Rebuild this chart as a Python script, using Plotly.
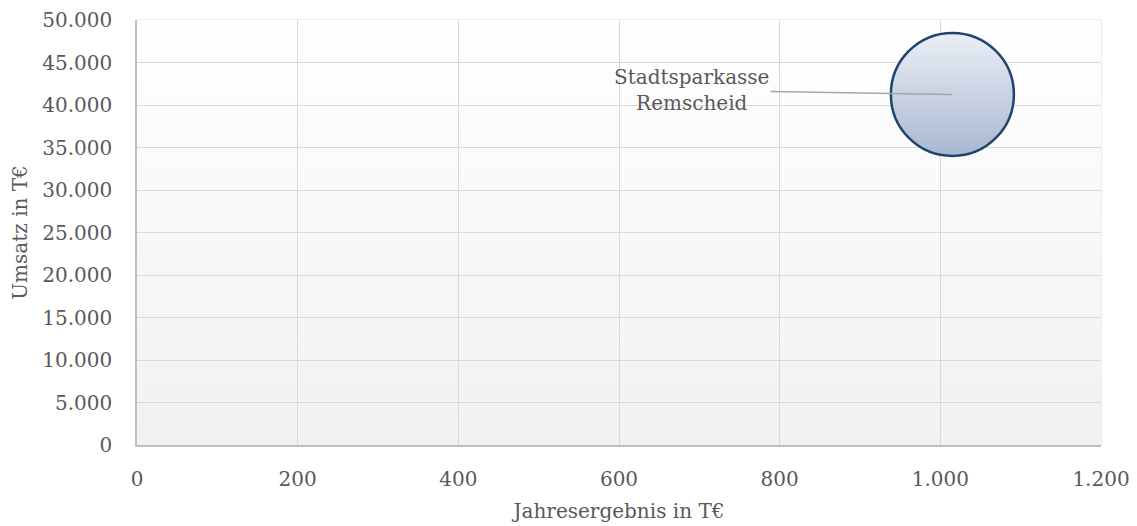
import base64
import plotly.graph_objects as go

# ---- data ----
names = ["Stadtsparkasse<br>Remscheid"]
jahresergebnis = [1015]      # T€ (x)
umsatz = [41250]             # T€ (y)
bubble_px = [123]            # bubble diameter in px

x_ticks = [0, 200, 400, 600, 800, 1000, 1200]
x_ticklabels = ["0", "200", "400", "600", "800", "1.000", "1.200"]
y_ticks = [0, 5000, 10000, 15000, 20000, 25000, 30000, 35000, 40000, 45000, 50000]
y_ticklabels = ["0", "5.000", "10.000", "15.000", "20.000", "25.000", "30.000",
                "35.000", "40.000", "45.000", "50.000"]

FONT = "DejaVu Serif"
TXT = "#595959"

# background gradient (white -> light grey) for the plot area
svg = ('<svg xmlns="http://www.w3.org/2000/svg" width="100" height="100" preserveAspectRatio="none">'
       '<defs><linearGradient id="g" x1="0" y1="0" x2="0" y2="1">'
       '<stop offset="0" stop-color="#ffffff"/><stop offset="1" stop-color="#f1f1f1"/>'
       '</linearGradient></defs><rect width="100" height="100" fill="url(#g)"/></svg>')
bg_uri = "data:image/svg+xml;base64," + base64.b64encode(svg.encode()).decode()

fig = go.Figure()
fig.add_trace(go.Scatter(
    x=jahresergebnis, y=umsatz, mode="markers",
    marker=dict(size=bubble_px, color="#eaeef5", opacity=1,
                gradient=dict(type="vertical", color="#a9b8d2"),
                line=dict(color="#1f4470", width=2.5)),
    hoverinfo="skip", showlegend=False, cliponaxis=False,
))

fig.add_annotation(
    x=jahresergebnis[0], y=umsatz[0], xref="x", yref="y",
    text=names[0], showarrow=True, arrowhead=0, arrowwidth=1.5,
    arrowcolor="#a6a6a6", ax=-261, ay=-4,
    font=dict(family=FONT, size=20, color=TXT), align="center",
)

fig.add_layout_image(dict(
    source=bg_uri, xref="x", yref="y", x=0, y=50000, sizex=1200, sizey=50000,
    sizing="stretch", layer="below", xanchor="left", yanchor="top",
))

# light frame around the plot area (top / right edges)
fig.add_shape(type="rect", xref="paper", yref="paper", x0=0, y0=0, x1=1, y1=1,
              line=dict(color="#d9d9d9", width=1), fillcolor="rgba(0,0,0,0)",
              layer="below")

axis_common = dict(
    showgrid=True, gridcolor="#d9d9d9", gridwidth=1,
    showline=True, linecolor="#bfbfbf", linewidth=1.5,
    zeroline=False, ticks="", tickfont=dict(family=FONT, size=20, color=TXT),
    ticklabeloverflow="allow",
)

fig.update_xaxes(range=[0, 1200], tickmode="array", tickvals=x_ticks,
                 ticktext=x_ticklabels, ticklabelstandoff=15,
                 title=dict(text="Jahresergebnis in T€", standoff=14,
                            font=dict(family=FONT, size=20, color=TXT)),
                 **axis_common)
fig.update_yaxes(range=[0, 50000], tickmode="array", tickvals=y_ticks,
                 ticktext=y_ticklabels, ticklabelstandoff=19,
                 title=dict(text="Umsatz in T€", standoff=12,
                            font=dict(family=FONT, size=20, color=TXT)),
                 **axis_common)

# page body adds an 8px margin; size the figure so the plot area lands where the reference has it
fig.update_layout(
    width=1129, height=518,
    margin=dict(l=129, r=36, t=12, b=81, autoexpand=False),
    paper_bgcolor="white", plot_bgcolor="white",
    font=dict(family=FONT, size=20, color=TXT),
    showlegend=False,
)

fig.write_html("out.html")
